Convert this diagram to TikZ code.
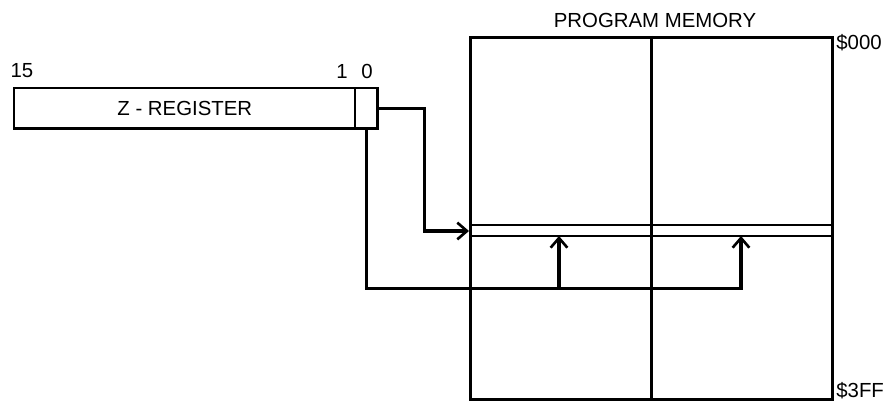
\documentclass[tikz,border=0pt]{standalone}
\usepackage{fontspec}
\setmainfont{Liberation Sans}
\usetikzlibrary{arrows.meta,positioning}

\begin{document}
\begin{tikzpicture}[x=0.02cm, y=-0.02cm,
    lbl/.style={font=\fontsize{11.6}{13}\selectfont, inner sep=0pt},
    wall/.style={line width=1.7pt},
    arr/.style={line width=1.8pt, -{Straight Barb[length=5.5pt, width=9.5pt, line width=1.5pt]}}]
         \useasboundingbox (0,0) rectangle (887,405);

         % Define nodes
         \node[lbl, minimum width=6.82cm, minimum height=0.8cm, anchor=north west] (zreg) at (14,88) {Z - REGISTER};
         \node[lbl, minimum width=0.44cm, minimum height=0.8cm, anchor=north west] (bit0) at (355,88) {};
         \node[lbl] (hi) at (22,71) {15};
         \node[lbl] (b1) at (342,71) {1};
         \node[lbl] (b0) at (367,71) {0};
         \node[draw, wall, minimum width=7.24cm, minimum height=7.24cm, anchor=north west, inner sep=0pt] (mem) at (469,36) {};
         \node[lbl] (title) at (655,20) {PROGRAM MEMORY};
         \node[lbl, anchor=west] (top) at (836,43) {\$000};
         \node[lbl, anchor=west] (bot) at (836,391) {\$3FF};
         \coordinate (word) at (469,231);
         \coordinate (lo) at (559,236);
         \coordinate (up) at (741,236);

         % Draw register and memory
         \draw[wall] (zreg.north west) rectangle (bit0.south east);
         \draw[line width=0.7pt] (bit0.north west) -- (bit0.south west);
         \draw[line width=1.3pt] (mem.north) -- (mem.south);
         \draw[line width=0.8pt] (469,225) -- (831,225);
         \draw[line width=0.8pt] (469,236) -- (831,236);

         % Draw edges
         \draw[arr] (bit0.east) -- ++(47,0) |- (word);
         \draw[arr] (bit0.south) -- ++(0,160) -| (up);
         \draw[arr] (lo) ++(0,52) -- (lo);
       \end{tikzpicture}
\end{document}
